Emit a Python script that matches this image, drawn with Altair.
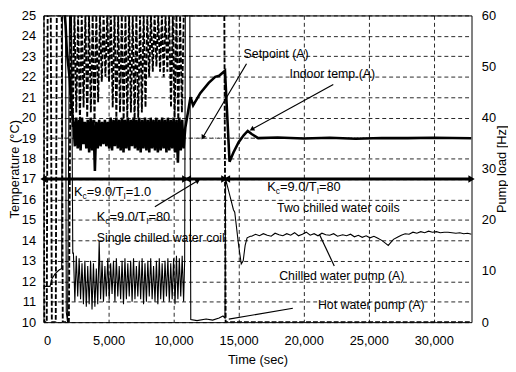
import altair as alt
import pandas as pd

X_MAX = 32900
FONT = "Liberation Sans"

x_ticks = [0, 5000, 10000, 15000, 20000, 25000, 30000]
temp_ticks = list(range(10, 26))
hz_ticks = [0, 10, 20, 30, 40, 50, 60]

# shared time base of the controller-oscillation period (sec)
osc_t = [2300, 2410, 2520, 2630, 2740, 2850, 2960, 3070, 3180, 3290, 3400, 3510, 3620, 3730,
         3840, 3950, 4060, 4170, 4280, 4390, 4500, 4610, 4720, 4830, 4940, 5050, 5160, 5270,
         5380, 5490, 5600, 5710, 5820, 5930, 6040, 6150, 6260, 6370, 6480, 6590, 6700, 6810,
         6920, 7030, 7140, 7250, 7360, 7470, 7580, 7690, 7800, 7910, 8020, 8130, 8240, 8350,
         8460, 8570, 8680, 8790, 8900, 9010, 9120, 9230, 9340, 9450, 9560, 9670, 9780, 9890,
         10000, 10110, 10220, 10330, 10440, 10550, 10660, 10770]

# Indoor temp (A) [degC]
osc_indoor = [19.8, 18.6, 20.0, 18.5, 19.9, 18.4, 20.0, 18.7, 19.8, 18.5, 19.9, 18.3, 20.0, 18.4,
              19.9, 17.4, 19.8, 18.5, 19.9, 18.6, 19.8, 18.7, 19.9, 18.6, 19.8, 18.5, 20.0, 18.4,
              19.9, 18.6, 20.0, 18.5, 19.9, 18.4, 20.0, 18.3, 19.9, 18.5, 20.0, 18.4, 19.9, 18.6,
              20.0, 18.5, 19.9, 18.4, 20.0, 18.3, 19.9, 18.5, 20.0, 18.4, 19.9, 18.3, 20.0, 18.5,
              19.9, 18.4, 20.0, 18.3, 19.9, 18.4, 20.0, 18.5, 19.9, 18.3, 20.0, 18.4, 19.9, 18.5,
              20.0, 18.3, 19.9, 17.8, 20.0, 18.4, 19.9, 18.5]
indoor_t = ([0, 1500, 1700, 1800, 2000, 2100, 2200] + osc_t +
            [10900, 11300, 11500, 12050, 12700, 13200, 13500, 13860, 13950, 14300, 14600, 15000,
             15400, 15700, 16000, 16500, 18000, 20000, 22000, 24000, 26000, 28000, 30000, 32900])
indoor_v = ([26.5, 26.0, 24.5, 23.2, 22.0, 21.0, 20.3] + osc_indoor +
            [19.5, 21.0, 20.6, 21.2, 21.7, 22.0, 22.05, 22.25, 22.3, 17.85, 18.3, 18.8,
             19.15, 19.35, 19.2, 19.0, 19.03, 18.98, 19.02, 18.97, 19.01, 19.0, 19.02, 18.99])

# Setpoint (A) [degC]
setpoint_t = [0, 32900]
setpoint_v = [19, 19]

# Chilled water pump (A) [Hz]
osc_chw = [13.5, 4.0, 13.0, 5.0, 12.5, 4.5, 11.5, 3.5, 12.0, 3.0, 11.0, 3.5, 12.0, 2.5,
           11.5, 3.0, 10.5, 3.5, 15.8, 4.5, 12.0, 4.0, 11.0, 5.0, 12.5, 4.5, 11.5, 5.5,
           12.0, 4.0, 12.5, 5.0, 11.0, 4.5, 12.0, 3.5, 12.5, 4.5, 11.5, 5.0, 12.0, 4.0,
           12.5, 4.5, 11.0, 5.0, 12.0, 4.5, 12.5, 3.5, 11.5, 4.0, 12.0, 5.0, 12.5, 4.5,
           11.0, 4.0, 12.0, 3.5, 12.5, 4.5, 11.5, 4.0, 12.0, 5.0, 12.5, 4.0, 11.5, 4.5,
           12.5, 3.5, 13.0, 4.5, 12.5, 5.0, 13.0, 4.0]
chw_tail_t = [16000, 16300, 16600, 16900, 17200, 17500, 17800, 18100, 18400, 18700, 19000, 19300,
              19600, 19900, 20200, 20500, 20800, 21100, 21400, 21700, 22000, 22300, 22600,
              23000, 23300, 23600, 23900, 24200, 24500, 24800, 25100, 25400, 25700, 26000, 26300,
              26500, 26700, 26900,
              27200, 27500, 27800, 28100, 28400, 28700, 29000, 29300, 29600, 29900, 30200, 30500,
              30800, 31100, 31400, 31700, 32000, 32300, 32600, 32900]
chw_tail_v = [16.8, 17.2, 16.9, 17.3, 17.0, 16.8, 17.4, 17.1, 16.9, 17.3, 17.0, 17.5,
              16.9, 17.2, 17.6, 17.0, 17.3, 16.9, 17.4, 17.1, 17.0, 17.3, 16.8,
              17.1, 16.9, 17.2, 16.7, 17.0, 16.6, 16.9, 16.5, 16.8, 16.4, 16.0, 15.4,
              15.0, 15.6, 16.2,
              16.6, 17.0, 17.3, 17.2, 17.6, 17.4, 17.7, 17.5, 17.8, 17.6, 17.7, 17.5,
              17.6, 17.6, 17.5, 17.4, 17.5, 17.3, 17.4, 17.2]
chw_t = ([0, 500, 650, 900, 1200, 1400, 1450, 1700, 1750, 1850, 2000, 2150, 2250] + osc_t +
         [10850, 10900, 11250, 11320, 11800, 12500, 13000, 13500, 13800, 13950, 14000, 14300,
          14600, 14700, 15000, 15200, 15350, 15500, 15650, 15900] + chw_tail_t)
chw_v = ([7, 7, 8.5, 9.5, 10.2, 10.5, 60, 60, 2, 0, 60, 60, 13.5] + osc_chw +
         [12, 60, 60, 0.5, 0.3, 0.6, 0.4, 0.8, 1.2, 0.8, 28, 25,
          22, 21.5, 15, 11.4, 12, 15, 16.5, 16.8] + chw_tail_v)

# Hot water pump (A) [Hz]
hot_osc_t = [2240, 2380, 2520, 2660, 2800, 2940, 3080, 3220, 3360, 3500, 3640, 3780, 3920, 4060,
             4200, 4340, 4480, 4620, 4760, 4900, 5040, 5180, 5320, 5460, 5600, 5740, 5880, 6020,
             6160, 6300, 6440, 6580, 6720, 6860, 7000, 7140, 7280, 7420, 7560, 7700, 7840, 7980,
             8120, 8260, 8400, 8540, 8680, 8820, 8960, 9100, 9240, 9380, 9520, 9660, 9800, 9940,
             10080, 10220, 10360, 10500, 10640, 10780]
hot_troughs = [38, 41, 39, 42, 40, 41, 39, 43, 47, 48, 47, 42, 40, 41, 39, 40, 41, 39, 40, 41,
               42, 48, 49, 50, 49, 48, 49, 42, 40, 39, 41]
hot_osc_v = [v for tr in hot_troughs for v in (tr, 60)]
hot_t = ([0, 60, 250, 320, 560, 640, 940, 1020, 1400, 1480, 1950, 2100] + hot_osc_t +
         [13900, 14000, 32900])
hot_v = ([60, 0, 0, 60, 60, 0, 0, 60, 60, 0, 0, 60] + hot_osc_v + [60, 0, 0])

# annotations (time, temperature)
labels = pd.DataFrame({
    "t": [17879, 22197, 22930, 25200],
    "v": [23.12, 22.15, 12.27, 10.82],
    "text": ["Setpoint (A)", "Indoor temp.(A)", "Chilled water pump (A)", "Hot water pump (A)"],
})
left_labels = pd.DataFrame({
    "t": [4091, 17955],
    "v": [14.10, 15.60],
    "text": ["Single chilled water coil", "Two chilled water coils"],
})
kc_anchor = [(2348, 16.37, "=1.0"), (4091, 15.16, "=80"), (17197, 16.61, "=80")]

arrows = pd.DataFrame({
    "t": [15606, 22273, 8561, 22349, 19167],
    "v": [22.64, 21.62, 15.64, 12.75, 10.68],
    "t2": [12273, 16061, 11818, 21212, 14242],
    "v2": [19.07, 19.45, 16.90, 14.29, 10.15],
})
heads = pd.DataFrame({
    "t": [12273, 16061, 11818],
    "v": [19.07, 19.45, 16.90],
    "a": [210.7, 241.2, 58.8],
})
span_rule = pd.DataFrame({"t": [0], "t2": [32900], "v": [17], "v2": [17]})
span_heads = pd.DataFrame({
    "t": [0, 10900, 11100, 13900, 14100, 32900],
    "v": [17, 17, 17, 17, 17, 17],
    "s": ["triangle-left", "triangle-right", "triangle-left", "triangle-right",
          "triangle-left", "triangle-right"],
})

# subscript-label fragments (Arial em widths)
W = {"K": 0.667, "c": 0.5, "=": 0.584, "9": 0.556, ".": 0.278, "0": 0.556, "/": 0.278,
     "T": 0.611, "I": 0.278, "1": 0.556, "8": 0.556}
PX_T = X_MAX / 434.0
MAIN_FS, SUB_FS = 13, 8.5
frag_rows = []
for t0, v0, tail in kc_anchor:
    pieces = [("K", False), ("c", True), ("=9.0/T", False), ("I", True), (tail, False)]
    x = t0
    for txt, sub in pieces:
        fs = SUB_FS if sub else MAIN_FS
        frag_rows.append({"t": x, "v": v0, "text": txt, "sub": sub})
        x += sum(W[ch] for ch in txt) * fs * PX_T
frags = pd.DataFrame(frag_rows)

# ---- encodings ----
X = alt.X("t:Q", scale=alt.Scale(domain=[0, X_MAX], nice=False, zero=False),
          axis=alt.Axis(values=x_ticks, format=",d", title="Time (sec)", grid=True,
                        gridDash=[4, 3], gridColor="#000", gridOpacity=0.85, gridWidth=1,
                        ticks=False, domain=False, labelPadding=13,
                        titleX=217, titleY=38, titleBaseline="middle", titleAlign="center"))
YT = alt.Y("v:Q", scale=alt.Scale(domain=[10, 25], nice=False, zero=False),
           axis=alt.Axis(values=temp_ticks, format="d", title="Temperature (°C)", orient="left",
                         grid=True, gridDash=[4, 3], gridColor="#000", gridOpacity=0.85,
                         gridWidth=1, ticks=False, domain=False, labelPadding=8,
                         titleAngle=270, titleX=-29, titleY=155.5, titleBaseline="middle",
                         titleAlign="center"))
YH = alt.Y("v:Q", scale=alt.Scale(domain=[0, 60], nice=False, zero=False),
           axis=alt.Axis(values=hz_ticks, format="d", title="Pump load [Hz]", orient="right",
                         grid=False, ticks=False, domain=False, labelPadding=10,
                         titleAngle=270, titleX=30, titleY=155.5, titleBaseline="middle",
                         titleAlign="center"))

hot = alt.Chart(pd.DataFrame({"t": hot_t, "v": hot_v})).mark_line(
    color="#000", strokeWidth=1.9, strokeDash=[5, 2], clip=True).encode(x=X, y=YH)
chw = alt.Chart(pd.DataFrame({"t": chw_t, "v": chw_v})).mark_line(
    color="#000", strokeWidth=1.1, clip=True).encode(x=X, y=YH)
pumps = alt.layer(hot, chw)

setp = alt.Chart(pd.DataFrame({"t": setpoint_t, "v": setpoint_v})).mark_line(
    color="#666", strokeWidth=1.3, strokeDash=[1, 2]).encode(x=X, y=YT)
indoor = alt.Chart(pd.DataFrame({"t": indoor_t, "v": indoor_v})).mark_line(
    color="#000", strokeWidth=2.6, clip=True).encode(x=X, y=YT)
span = alt.Chart(span_rule).mark_rule(color="#000", strokeWidth=3).encode(
    x=X, x2="t2:Q", y=YT, y2="v2:Q")
span_pts = alt.Chart(span_heads).mark_point(filled=True, color="#000", size=55, opacity=1).encode(
    x=X, y=YT, shape=alt.Shape("s:N", scale=None))
arr = alt.Chart(arrows).mark_rule(color="#000", strokeWidth=1.2).encode(
    x=X, x2="t2:Q", y=YT, y2="v2:Q")
arr_heads = alt.Chart(heads).mark_point(shape="triangle", filled=True, color="#000", size=30,
                                        opacity=1).encode(
    x=X, y=YT, angle=alt.Angle("a:Q", scale=None))
txt_c = alt.Chart(labels).mark_text(font=FONT, fontSize=12.5, color="#000", align="center",
                                    baseline="middle").encode(x=X, y=YT, text="text:N")
txt_l = alt.Chart(left_labels).mark_text(font=FONT, fontSize=12.5, color="#000", align="left",
                                         baseline="middle").encode(x=X, y=YT, text="text:N")
frag_main = alt.Chart(frags).transform_filter("!datum.sub").mark_text(
    font=FONT, fontSize=MAIN_FS, color="#000", align="left", baseline="middle").encode(
    x=X, y=YT, text="text:N")
frag_sub = alt.Chart(frags).transform_filter("datum.sub").mark_text(
    font=FONT, fontSize=SUB_FS, color="#000", align="left", baseline="middle", dy=4).encode(
    x=X, y=YT, text="text:N")

temps = alt.layer(setp, indoor, span, span_pts, arr, arr_heads, txt_c, txt_l, frag_main, frag_sub)

chart = alt.layer(pumps, temps).resolve_scale(y="independent").properties(
    width=434, height=311,
    autosize=alt.AutoSizeParams(type="none"),
    padding={"left": 36, "top": 5, "right": 37, "bottom": 48},
    background="white",
).configure_view(stroke="#000", strokeWidth=1).configure_axis(
    labelFont=FONT, labelFontSize=13, labelColor="#000",
    titleFont=FONT, titleFontSize=13, titleFontWeight="normal", titleColor="#000",
)

chart.save("out.html", embed_options={"renderer": "svg", "actions": False})
